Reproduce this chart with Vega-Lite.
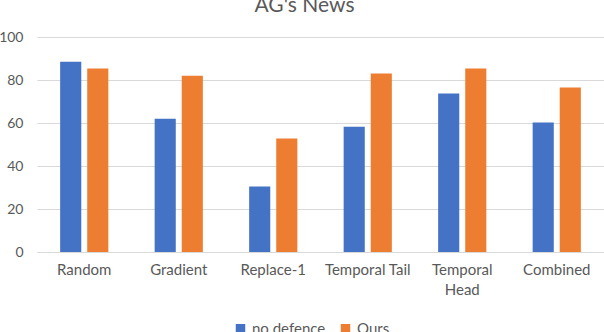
{
  "$schema": "https://vega.github.io/schema/vega-lite/v6.json",
  "width": 567,
  "height": 215,
  "autosize": {"type": "none"},
  "padding": {"left": 37, "top": 37, "right": 0, "bottom": 80},
  "background": "white",
  "title": {"text": "AG's News", "fontSize": 21, "font": "Lato", "fontWeight": "normal", "color": "#595959", "offset": -3, "anchor": "middle", "dx": -16, "baseline": "alphabetic"},
  "config": {"view": {"stroke": null}, "font": "Lato"},
  "data": {"values": [
    {"attack": "Random", "method": "no defence", "acc": 88.5},
    {"attack": "Random", "method": "Ours", "acc": 85.3},
    {"attack": "Gradient", "method": "no defence", "acc": 62},
    {"attack": "Gradient", "method": "Ours", "acc": 82},
    {"attack": "Replace-1", "method": "no defence", "acc": 30.5},
    {"attack": "Replace-1", "method": "Ours", "acc": 52.8},
    {"attack": "Temporal Tail", "method": "no defence", "acc": 58.3},
    {"attack": "Temporal Tail", "method": "Ours", "acc": 83},
    {"attack": "Temporal Head", "method": "no defence", "acc": 73.7},
    {"attack": "Temporal Head", "method": "Ours", "acc": 85.3},
    {"attack": "Combined", "method": "no defence", "acc": 60.2},
    {"attack": "Combined", "method": "Ours", "acc": 76.5}
  ]},
  "mark": {"type": "bar"},
  "encoding": {
    "x": {"field": "attack", "type": "nominal", "sort": null,
      "scale": {"paddingInner": 0.49, "paddingOuter": 0.245},
      "axis": {"title": null, "labelAngle": 0, "labelFontSize": 15, "labelColor": "#595959", "labelPadding": 10, "ticks": false, "domainColor": "#d9d9d9", "domainWidth": 1,
        "labelExpr": "datum.value == 'Temporal Head' ? ['Temporal', 'Head'] : datum.value", "labelLineHeight": 20}},
    "xOffset": {"field": "method", "type": "nominal", "sort": ["no defence", "Ours"], "scale": {"paddingInner": 0.22}},
    "y": {"field": "acc", "type": "quantitative",
      "scale": {"domain": [0, 100]},
      "axis": {"title": null, "values": [0, 20, 40, 60, 80, 100], "labelFontSize": 14, "labelColor": "#595959", "labelPadding": 14, "ticks": false, "domain": false, "gridColor": "#d9d9d9", "gridWidth": 1}},
    "color": {"field": "method", "type": "nominal", "sort": ["no defence", "Ours"],
      "scale": {"domain": ["no defence", "Ours"], "range": ["#4472c4", "#ed7d31"]},
      "legend": {"title": null, "orient": "none", "direction": "horizontal", "legendX": 196, "legendY": 284, "symbolType": "square", "symbolSize": 90, "symbolStrokeWidth": 0, "labelFontSize": 15, "labelColor": "#595959", "columnPadding": 12, "labelOffset": 4}}
  }
}
